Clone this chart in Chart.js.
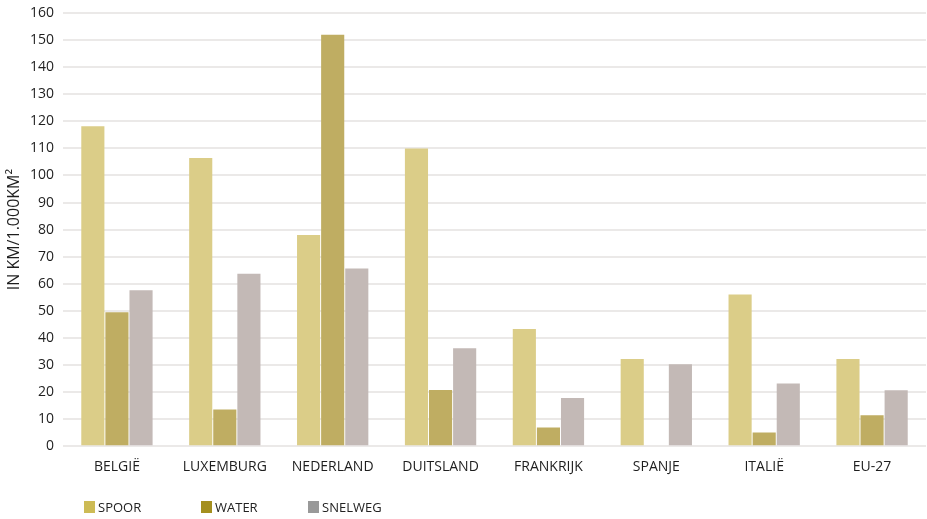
<!DOCTYPE html>
<html lang="nl">
<head>
<meta charset="utf-8">
<title>Netwerkdichtheid</title>
<script src="https://cdn.jsdelivr.net/npm/chart.js@4.4.1/dist/chart.umd.min.js"></script>
<style>
    html, body { margin: 0; padding: 0; background: #ffffff; }
    #wrap { width: 927px; height: 519px; position: relative; }
    #legend {
        position: absolute;
        top: 500px;
        left: 0;
        margin: 0;
        padding: 0;
        list-style: none;
        font-family: 'Open Sans', 'Noto Sans', sans-serif;
        font-size: 13px;
        color: #222222;
    }
    #legend li {
        position: absolute;
        top: 0;
        display: flex;
        align-items: center;
        white-space: nowrap;
        line-height: 14px;
    }
    #legend .swatch {
        display: inline-block;
        width: 11px;
        height: 12px;
        margin-right: 3px;
    }
</style>
</head>
<body>
<div id="wrap">
    <canvas id="densityChart"></canvas>
    <ul id="legend"></ul>
</div>
<script>
const countries = ["BELGIË", "LUXEMBURG", "NEDERLAND", "DUITSLAND", "FRANKRIJK", "SPANJE", "ITALIË", "EU-27"];
const spoor = [118.2, 106.4, 78, 110, 43.3, 32.2, 56, 32.2];
const water = [49.5, 13.6, 152, 20.8, 6.9, 0, 5.1, 11.4];
const snelweg = [57.6, 63.7, 65.6, 36.2, 17.8, 30.3, 23.2, 20.7];

const seriesNames = ["SPOOR", "WATER", "SNELWEG"];
const barColors = ["#dbcd88", "#bfad62", "#c3b9b6"];
const legendColors = ["#cdbb55", "#a48f1f", "#999999"];
const legendOffsets = [84, 201, 308];

const fontFamily = "'Open Sans', 'Noto Sans', sans-serif";

function buildDataset(label, values, color) {
    return {
        label: label,
        data: values,
        backgroundColor: color,
        borderWidth: 0,
        categoryPercentage: 0.67,
        barPercentage: 0.96
    };
}

// legend lives in plain HTML so the swatches can sit under the plot
function buildLegend() {
    const list = document.getElementById("legend");
    list.innerHTML = "";
    seriesNames.forEach((name, i) => {
        list.innerHTML += `<li style="left:${legendOffsets[i]}px">
                <span class="swatch" style="background:${legendColors[i]}"></span>${name}
            </li>`;
    });
}

function drawChart() {
    const ctx = document.getElementById("densityChart").getContext("2d");

    window.densityChart = new Chart(ctx, {
        type: "bar",
        data: {
            labels: countries,
            datasets: [
                buildDataset(seriesNames[0], spoor, barColors[0]),
                buildDataset(seriesNames[1], water, barColors[1]),
                buildDataset(seriesNames[2], snelweg, barColors[2])
            ]
        },
        options: {
            responsive: true,
            maintainAspectRatio: false,
            animation: false,
            layout: {
                padding: { top: 13, right: 1, bottom: 32, left: 0 }
            },
            scales: {
                x: {
                    grid: { display: false, drawTicks: false },
                    border: { display: false },
                    ticks: {
                        color: "#1e1e1e",
                        padding: 12,
                        font: { family: fontFamily, size: 14 }
                    }
                },
                y: {
                    min: 0,
                    max: 160,
                    afterFit(scale) {
                        // fixed gutter; the top label may overhang the padding
                        scale.width = 63;
                        scale.paddingTop = 0;
                        scale.paddingBottom = 0;
                    },
                    grid: {
                        color: "#ebe9e8",
                        lineWidth: 2,
                        drawTicks: false
                    },
                    border: { display: false },
                    ticks: {
                        stepSize: 10,
                        color: "#1e1e1e",
                        padding: 9,
                        font: { family: fontFamily, size: 14 }
                    },
                    title: {
                        display: true,
                        text: "IN KM/1.000KM²",
                        color: "#1e1e1e",
                        padding: { top: 5, bottom: 0 },
                        font: { family: fontFamily, size: 16 }
                    }
                }
            },
            plugins: {
                tooltip: { enabled: false },
                legend: { display: false }
            }
        }
    });
}

document.addEventListener("DOMContentLoaded", function () {
    buildLegend();
    drawChart();
});
</script>
</body>
</html>
